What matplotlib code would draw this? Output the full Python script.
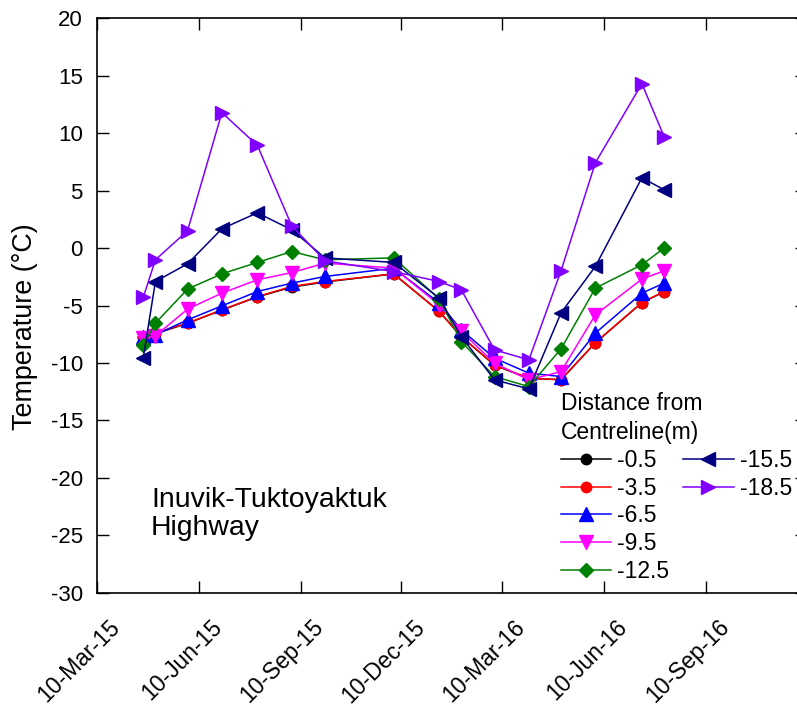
import numpy as np
import pandas as pd
import matplotlib
matplotlib.use('Agg')
import matplotlib.pyplot as plt
import matplotlib.dates as mdates
from matplotlib.lines import Line2D
from matplotlib.transforms import ScaledTranslation

plt.rcParams['font.family'] = ['Liberation Sans', 'DejaVu Sans']
plt.rcParams['axes.unicode_minus'] = False

# Survey dates
dates = pd.to_datetime([
    '2015-04-21', '2015-05-02', '2015-05-31', '2015-07-01', '2015-08-02',
    '2015-09-02', '2015-10-02', '2015-12-03', '2016-01-13', '2016-02-02',
    '2016-03-03', '2016-04-03', '2016-05-02', '2016-06-02', '2016-07-14',
    '2016-08-03',
])

# Temperature (degC) by distance from centreline
t_m0_5 = [-7.75, -7.45, -6.55, -5.40, -4.25, -3.40, -2.95, -2.25, -5.50,
          -7.70, -10.20, -11.35, -11.45, -8.25, -4.75, -3.80]
t_m3_5 = [-7.70, -7.38, -6.53, -5.37, -4.22, -3.34, -2.91, -2.24, -5.52,
          -7.70, -10.17, -11.32, -11.47, -8.22, -4.74, -3.78]
t_m6_5 = [-7.70, -7.55, -6.25, -5.03, -3.78, -3.05, -2.47, -1.75, -4.76,
          -7.12, -9.58, -10.89, -11.18, -7.40, -3.92, -3.05]
t_m9_5 = [-7.84, -7.64, -5.31, -3.92, -2.76, -2.13, -1.31, -1.74, -4.94,
          -7.26, -10.02, -11.47, -10.75, -5.81, -2.70, -1.98]
t_m12_5 = [-8.42, -6.53, -3.57, -2.24, -1.25, -0.30, -1.02, -0.85, -4.42,
           -8.14, -11.18, -12.06, -8.77, -3.48, -1.45, 0.00]
t_m15_5 = [-9.58, -2.91, -1.37, 1.68, 3.07, 1.59, -0.85, -1.25, -4.35,
           -7.70, -11.47, -12.26, -5.64, -1.60, 6.12, 5.08]
t_m18_5 = [-4.30, -1.02, 1.51, 11.79, 8.94, 1.94, -1.11, -2.04, -2.91,
           -3.63, -8.86, -9.73, -1.98, 7.43, 14.31, 9.70]

labels = ['-0.5', '-3.5', '-6.5', '-9.5', '-12.5', '-15.5', '-18.5']
series = [t_m0_5, t_m3_5, t_m6_5, t_m9_5, t_m12_5, t_m15_5, t_m18_5]
colors = ['black', '#ff0000', '#0000ff', '#ff00ff', '#008000', '#000080', '#8000ff']
markers = ['o', 'o', '^', 'v', 'D', '<', '>']
msizes = [7.5, 7.5, 9.5, 9.5, 6.8, 9.5, 9.5]

tick_dates = pd.to_datetime([
    '2015-03-10', '2015-06-10', '2015-09-10', '2015-12-10',
    '2016-03-10', '2016-06-10', '2016-09-10', '2016-12-10',
])

fig = plt.figure(figsize=(7.97, 7.13), dpi=100)
ax = fig.add_axes([0.1213, 0.1687, 0.8913, 0.8056])

handles = []
for vals, lab, c, m, ms in zip(series, labels, colors, markers, msizes):
    h, = ax.plot(dates, vals, color=c, marker=m, markersize=ms,
                 markeredgecolor=c, markerfacecolor=c, linewidth=1.1,
                 label=lab)
    handles.append(h)

ax.set_xlim(tick_dates[0], tick_dates[-1])
ax.set_ylim(-30, 20)
ax.set_yticks(np.arange(-30, 21, 5))
ax.set_xticks(tick_dates)
ax.xaxis.set_major_formatter(mdates.DateFormatter('%d-%b-%y'))

ax.tick_params(direction='in', top=True, right=True, length=8.4, width=1,
               labelsize=16, pad=10)
for sp in ax.spines.values():
    sp.set_linewidth(1.2)

# drop the last date label (falls off the plot area)
xt_labels = [d.strftime('%d-%b-%y') for d in tick_dates]
xt_labels[-1] = ''
ax.set_xticklabels(xt_labels)
offset = ScaledTranslation(14 / 72, -12 / 72, fig.dpi_scale_trans)
for lbl in ax.get_xticklabels():
    lbl.set_rotation(45)
    lbl.set_ha('right')
    lbl.set_va('center')
    lbl.set_rotation_mode('anchor')
    lbl.set_fontsize(16.5)
    lbl.set_transform(lbl.get_transform() + offset)

ax.set_ylabel('Temperature (°C)', fontsize=19.4)
ax.yaxis.set_label_coords(-0.083, 0.4626)

ax.text(0.0765, 0.184, 'Inuvik-Tuktoyaktuk\nHighway', transform=ax.transAxes,
        fontsize=20.4, ha='left', va='top', linespacing=1.08)

# two-column legend: five entries on the left, two on the right
blank = Line2D([], [], linestyle='none', marker=None)
leg_handles = handles[:5] + handles[5:] + [blank] * 3
leg_labels = labels[:5] + labels[5:] + [''] * 3
leg = ax.legend(leg_handles, leg_labels, ncol=2, frameon=False,
                title='Distance from\nCentreline(m)', alignment='left',
                title_fontsize=16.5, fontsize=16.5,
                loc='upper left', bbox_to_anchor=(0.653, 0.350),
                borderpad=0, borderaxespad=0, handlelength=2.2,
                handletextpad=0.28, columnspacing=0.6, labelspacing=0.21)
leg.get_title().set_linespacing(1.35)

fig.savefig('out.png', dpi=100)
